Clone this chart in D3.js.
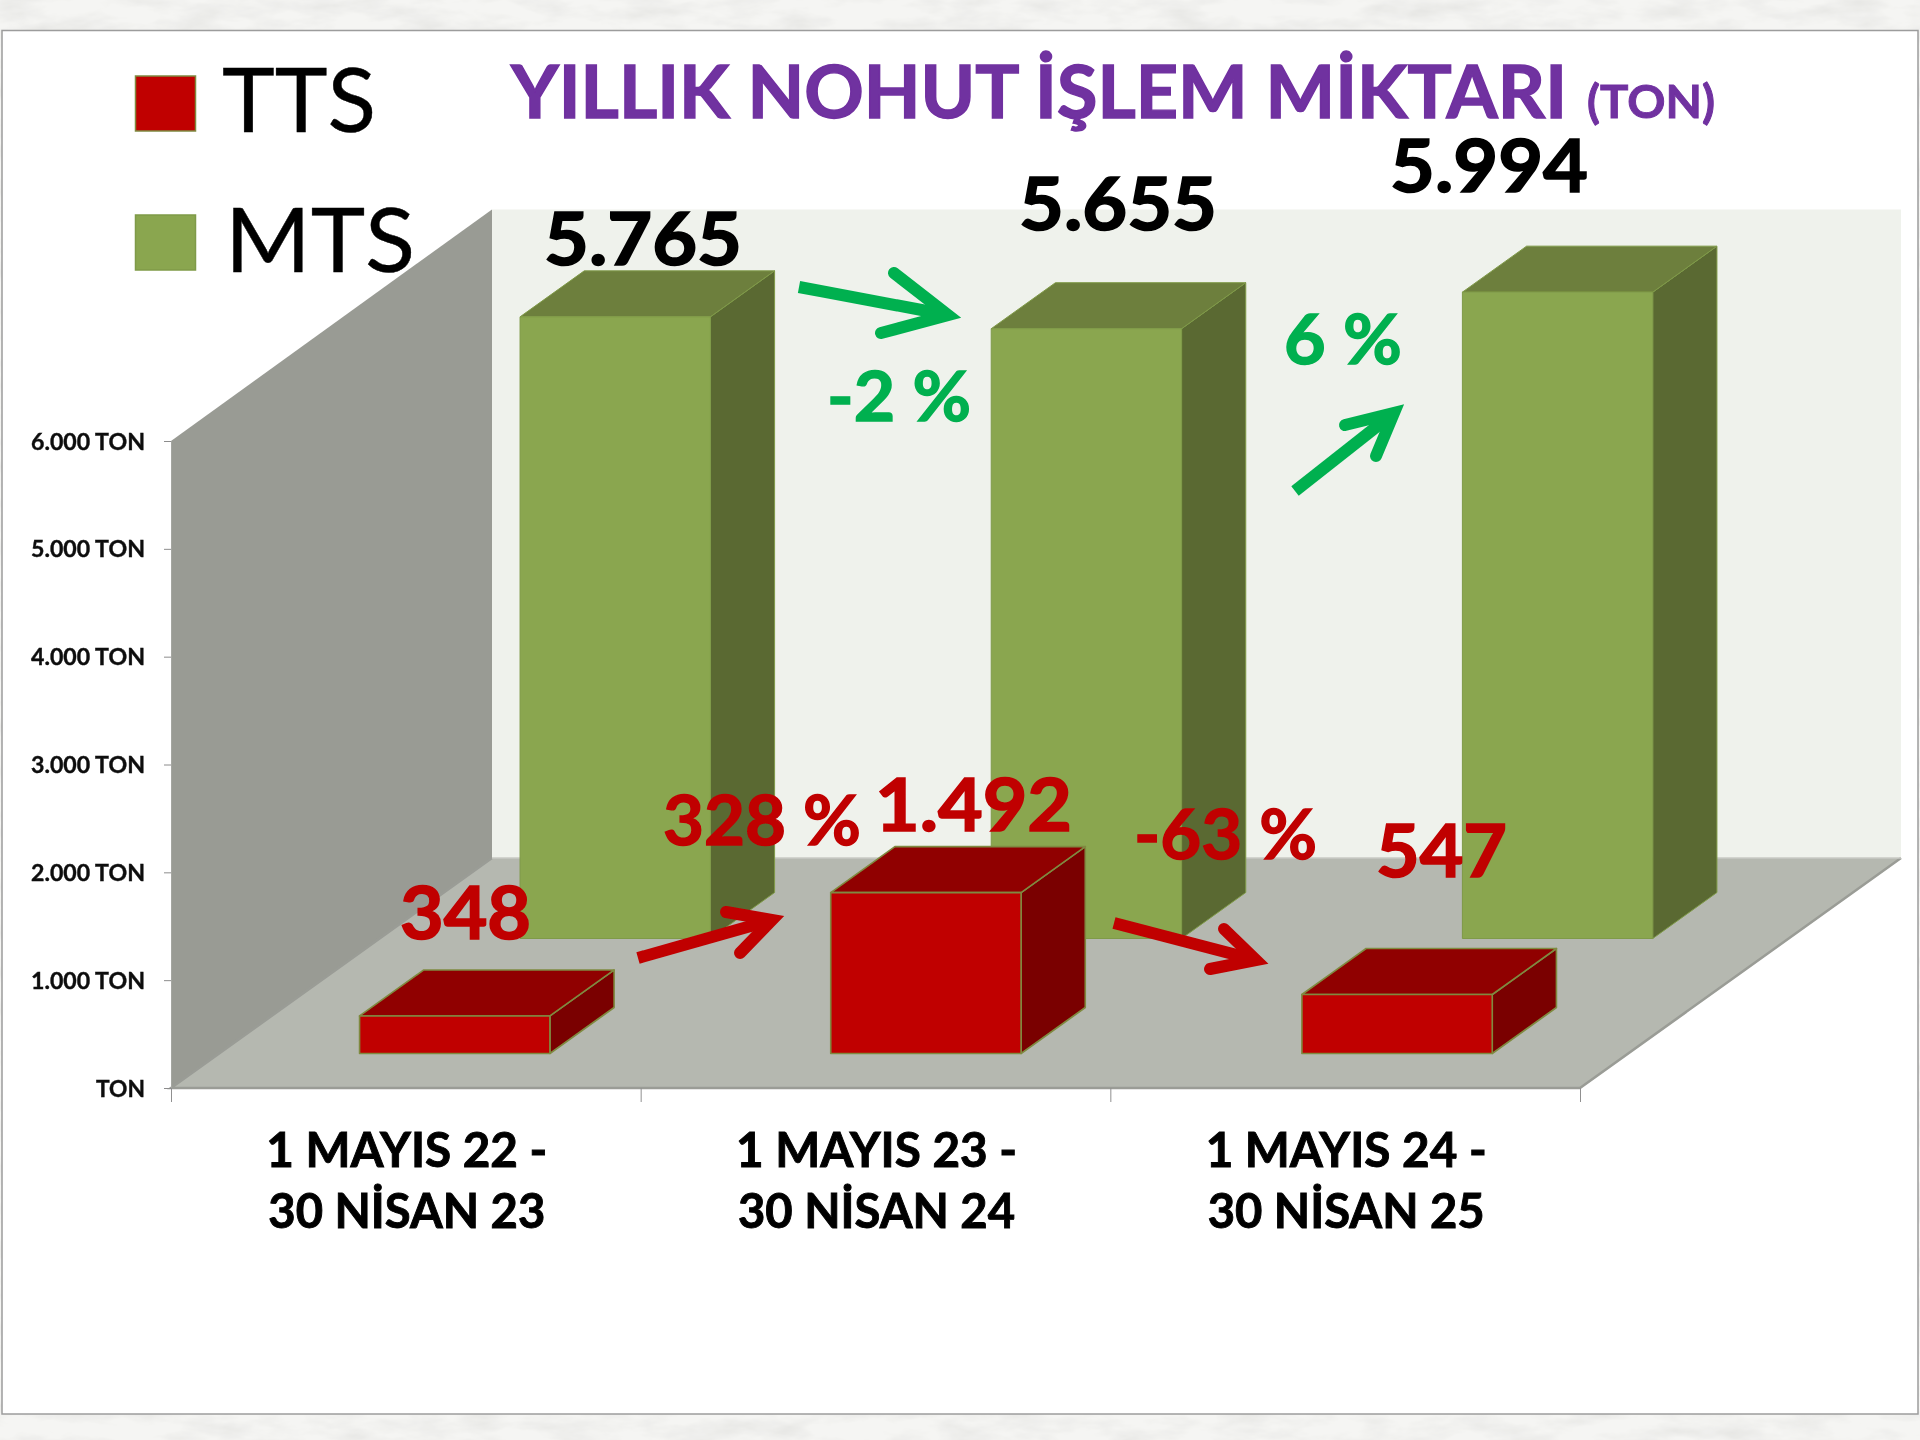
<!DOCTYPE html>
<html lang="tr"><head><meta charset="utf-8">
<style>html,body{margin:0;padding:0;background:#f3f3f1}svg{display:block}text{font-family:Lato,"Noto Sans",sans-serif}</style>
<script src="https://cdn.jsdelivr.net/npm/d3@7/dist/d3.min.js"></script>
</head><body><svg id="c" width="1920" height="1440" xmlns="http://www.w3.org/2000/svg"></svg>
<script>
// ---------- data ----------
const periods = ["1 MAYIS 22 -|30 NİSAN 23","1 MAYIS 23 -|30 NİSAN 24","1 MAYIS 24 -|30 NİSAN 25"];
const seriesNames = ["TTS","MTS"];
const ttsValues = [348,1492,547];
const mtsValues = [5765,5655,5994];
const axisTicks = [0,1000,2000,3000,4000,5000,6000];
const ttsLabels = ["348","1.492","547"];
const mtsLabels = ["5.765","5.655","5.994"];
const changeLabelsMts = ["-2 %","6 %"];
const changeLabelsTts = ["328 %","-63 %"];

// ---------- layout ----------
const W=1920,H=1440;
const plot={x0:171,x1:1580,y0:1088,y1:441,dx:321,dy:-230};
const col={TTS:{front:"#c00000",top:"#900000",side:"#7a0000",stroke:"#7f8a40"},
           MTS:{front:"#8aa64f",top:"#6d7f3c",side:"#5a6932",stroke:"#7f9a48"}};
const purple="#7030a0",green="#00b050",red="#c00000";

const svg=d3.select("#c");
const defs=svg.append("defs");
const marble=defs.append("filter").attr("id","marble").attr("x",0).attr("y",0).attr("width","100%").attr("height","100%");
marble.append("feTurbulence").attr("type","fractalNoise").attr("baseFrequency","0.018 0.05").attr("numOctaves",4).attr("seed",11);
marble.append("feColorMatrix").attr("type","matrix").attr("values","0 0 0 0 0.70  0 0 0 0 0.70  0 0 0 0 0.68  1.1 0 0 0 -0.44");
marble.append("feComposite").attr("in2","SourceGraphic").attr("operator","over");
defs.append("filter").attr("id","soft").attr("x","-2%").attr("y","-2%").attr("width","104%").attr("height","104%")
   .append("feGaussianBlur").attr("stdDeviation",0.55);

// background + panel
svg.append("rect").attr("width",W).attr("height",H).attr("fill","#f5f5f3").attr("filter","url(#marble)");
svg.append("rect").attr("x",2).attr("y",30.5).attr("width",1916).attr("height",1383.5)
   .attr("fill","#fff").attr("stroke","#9c9c9c").attr("stroke-width",1.5);

const root=svg.append("g").attr("filter","url(#soft)");

// scales
const xBand=d3.scaleBand().domain(periods).range([plot.x0,plot.x1+4.5]).paddingInner(0.596).paddingOuter(0.298);
const edge=d3.scaleLinear().domain([0,periods.length]).range([plot.x0,plot.x1]);
const yScale=d3.scaleLinear().domain([0,6000]).range([plot.y0,plot.y1]);
const depth=d3.scaleBand().domain(seriesNames).range([0,1]).paddingInner(0.6).paddingOuter(0.3);
const line=d3.line();
const project=(x,y,t)=>[x+plot.dx*t,y+plot.dy*t];

// walls and floor
const layerWalls=root.append("g");
const wallTop=plot.y1-1.5;
layerWalls.append("path").attr("d",line([project(plot.x0,wallTop,1),[plot.x1+plot.dx,wallTop+plot.dy],[plot.x1+plot.dx,plot.y0+plot.dy],project(plot.x0,plot.y0,1)])+"Z").attr("fill","#eff2ec");
layerWalls.append("path").attr("d",line([[plot.x0,plot.y0],[plot.x0,plot.y1],project(plot.x0,wallTop,1),project(plot.x0,plot.y0,1)])+"Z").attr("fill","#999b94");
layerWalls.append("path").attr("d",line([[plot.x0,plot.y0],[plot.x1,plot.y0],project(plot.x1,plot.y0,1),project(plot.x0,plot.y0,1)])+"Z").attr("fill","#b5b8b0");
layerWalls.append("path").attr("d",line([project(plot.x0,plot.y0,1),[plot.x0,plot.y0],[plot.x1,plot.y0],project(plot.x1,plot.y0,1)])).attr("fill","none").attr("stroke","#9a9c96").attr("stroke-width",2.5);
layerWalls.append("path").attr("d",line([project(plot.x0,plot.y0,1),project(plot.x1,plot.y0,1)])).attr("fill","none").attr("stroke","#c8cac4").attr("stroke-width",1.5);

// bars: back series first
function drawBars(name,values){
  const t0=depth(name),t1=t0+depth.bandwidth(),c=col[name];
  const g=root.append("g").selectAll("g").data(periods.map((p,i)=>({p,v:values[i]}))).join("g");
  const pts=d=>{
    const a=xBand(d.p),b=a+xBand.bandwidth(),yb=yScale(0),yt=yScale(d.v);
    return {f:[project(a,yb,t0),project(b,yb,t0),project(b,yt,t0),project(a,yt,t0)],
            s:[project(b,yb,t0),project(b,yb,t1),project(b,yt,t1),project(b,yt,t0)],
            t:[project(a,yt,t0),project(b,yt,t0),project(b,yt,t1),project(a,yt,t1)]};
  };
  const face=(key,fill)=>g.append("path").attr("d",d=>line(pts(d)[key])+"Z").attr("fill",fill)
     .attr("stroke",c.stroke).attr("stroke-width",name==="TTS"?1.6:1).attr("stroke-linejoin","round");
  face("s",c.side);face("t",c.top);face("f",c.front);
}
drawBars("MTS",mtsValues);
drawBars("TTS",ttsValues);

// y axis
const yAxis=d3.axisLeft(yScale).tickValues(axisTicks).tickSize(7).tickPadding(19)
  .tickFormat(d=>d===0?"TON":d3.format(",")(d).replace(",",".")+" TON");
const gy=root.append("g").attr("transform",`translate(${plot.x0},0)`).call(yAxis);
gy.select(".domain").attr("stroke","#a4a6a0").attr("stroke-width",1);
gy.selectAll(".tick line").attr("stroke","#8c8c8c");
gy.selectAll("text").attr("font-size",22).attr("font-weight",700).attr("fill","#111").attr("dy",8)
  .attr("stroke","#111").attr("stroke-width",0.4)
  .attr("lengthAdjust","spacingAndGlyphs").attr("textLength",d=>d===0?49:114);

// x axis ticks at the band edges
const gx=root.append("g").attr("transform",`translate(0,${plot.y0})`).call(d3.axisBottom(edge).tickValues(d3.range(periods.length+1)).tickSize(14).tickFormat(""));
gx.select(".domain").remove();
gx.selectAll(".tick line").attr("stroke","#909090");

// x labels
const xLab=root.append("g").selectAll("g").data(periods).join("g");
const xLines=[{i:0,y:1167,w:281},{i:1,y:1228,w:277}];
xLines.forEach(l=>xLab.append("text").attr("x",(d,i)=>edge(i+0.5)+1).attr("y",l.y)
  .attr("text-anchor","middle").attr("font-size",47).attr("font-weight",700).attr("fill","#000")
  .attr("stroke","#000").attr("stroke-width",0.9)
  .attr("lengthAdjust","spacingAndGlyphs").attr("textLength",l.w).text(d=>d.split("|")[l.i]));

// generic text
function label(txt,x,y,w,size,fill,weight=700,heavy=1.3){
  root.append("text").attr("x",x).attr("y",y).attr("font-size",size).attr("font-weight",weight).attr("fill",fill)
    .attr("stroke",fill).attr("stroke-width",heavy)
    .attr("lengthAdjust","spacingAndGlyphs").attr("textLength",w).text(txt);
}
// title
label("YILLIK NOHUT İŞLEM MİKTARI",511,118,1056,72,purple,700,1.4);
label("(TON)",1587,118,128,45,purple,700,0.9);

// legend
[{n:0,y:76,ty:132,tx:222,tw:154},{n:1,y:215,ty:272,tx:225,tw:190}].forEach(l=>{
  const name=seriesNames[l.n];
  root.append("rect").attr("x",135.5).attr("y",l.y).attr("width",60).attr("height",55).attr("fill",col[name].front)
    .attr("stroke",name==="TTS"?"#7f8a40":"#7f9a48").attr("stroke-width",1.5);
  label(name,l.tx,l.ty,l.tw,90,"#000",400,0.4);
});

// value labels
[[544,265,198],[1019,230,198],[1390,192,198]].forEach((p,i)=>label(mtsLabels[i],p[0],p[1],p[2],72,"#000",700,1.6));
[[400,939,131],[875,831,197],[1376,877,131]].forEach((p,i)=>label(ttsLabels[i],p[0],p[1],p[2],72,red,700,1.6));
[[827,421,144],[1284,364,118]].forEach((p,i)=>label(changeLabelsMts[i],p[0],p[1],p[2],68,green,700,1.4));
[[663,845,198],[1134,859,183]].forEach((p,i)=>label(changeLabelsTts[i],p[0],p[1],p[2],68,red,700,1.4));

// arrows
const arrows=[
 {c:green,tail:[799,287],tip:[948,315],b1:[894,273],b2:[881,333]},
 {c:green,tail:[1295,491],tip:[1394,413],b1:[1345,425],b2:[1376,456]},
 {c:red,tail:[638,958],tip:[772,920],b1:[726,912],b2:[740,953]},
 {c:red,tail:[1114,923],tip:[1256,960],b1:[1224,929],b2:[1210,969]}
];
const ga=root.append("g").attr("fill","none");
arrows.forEach(a=>{
  ga.append("path").attr("d",line([a.tail,a.tip])).attr("stroke",a.c).attr("stroke-width",12);
  ga.append("path").attr("d",line([a.b1,a.tip,a.b2])).attr("stroke",a.c).attr("stroke-width",12)
    .attr("stroke-linecap","round").attr("stroke-linejoin","miter").attr("stroke-miterlimit",8);
});
</script></body></html>
